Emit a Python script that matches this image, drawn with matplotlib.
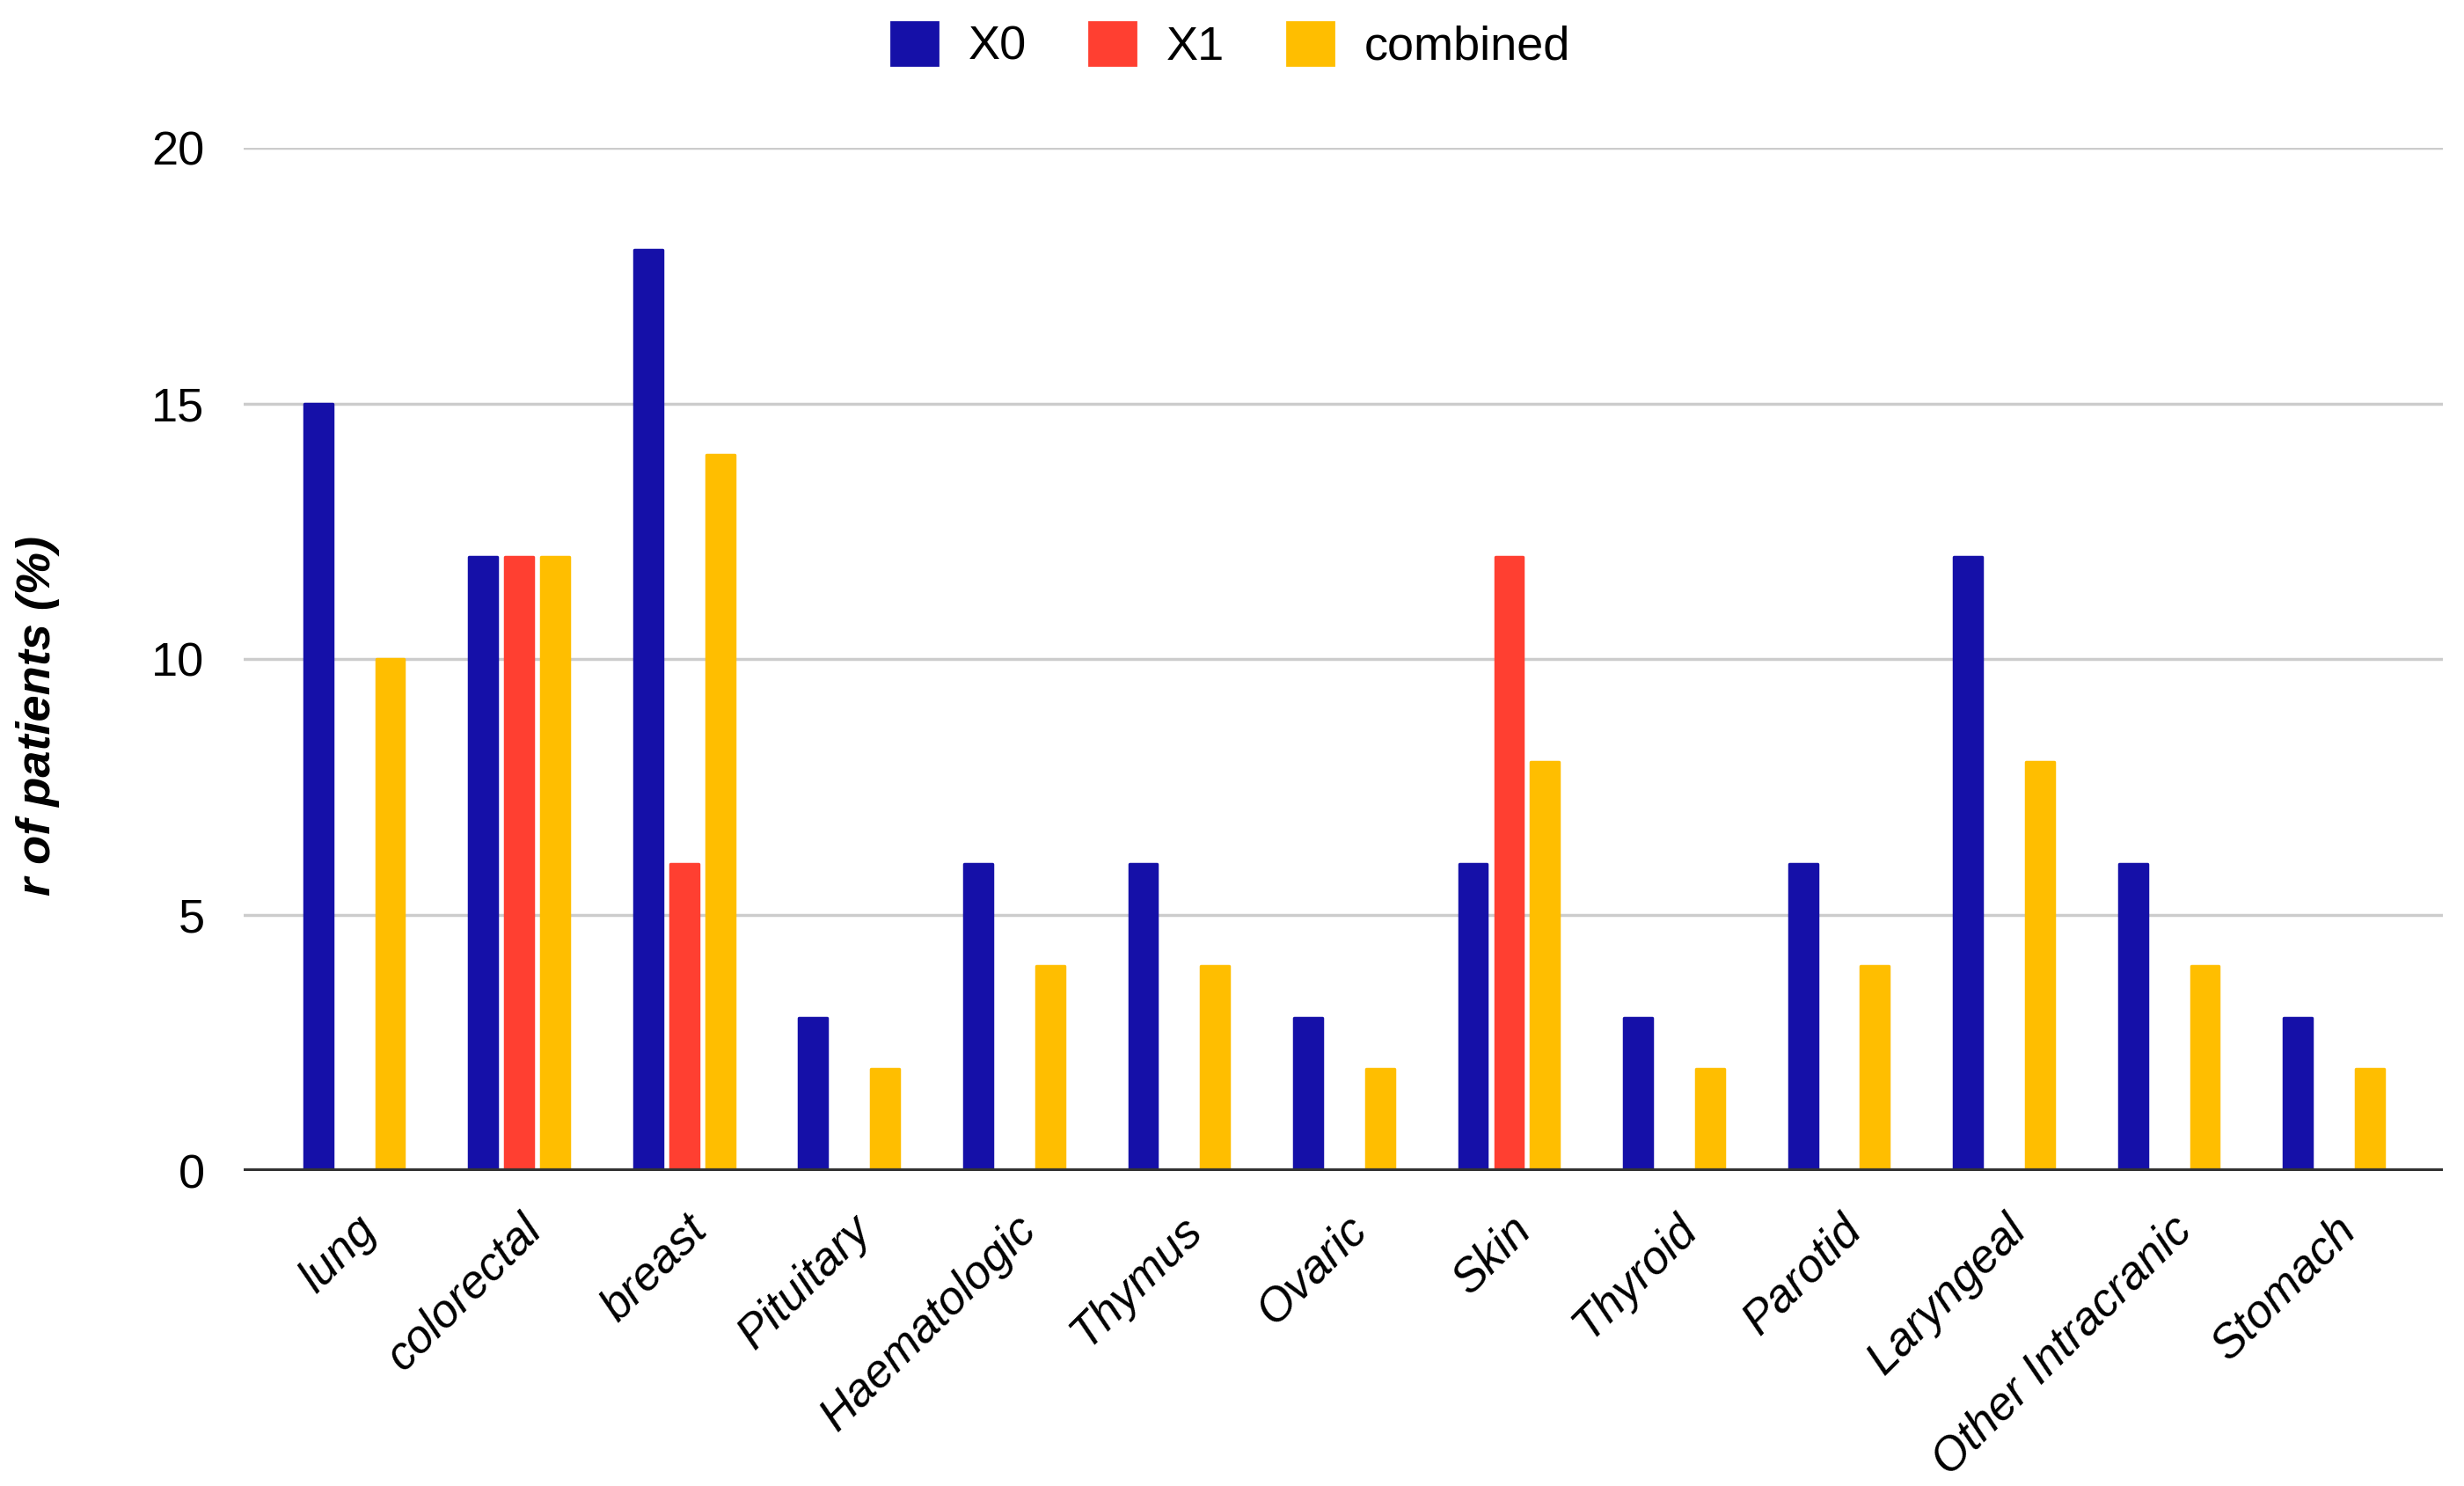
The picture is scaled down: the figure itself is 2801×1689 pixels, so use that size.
import numpy as np
import matplotlib
matplotlib.use("Agg")
import matplotlib.pyplot as plt
from matplotlib.patches import Patch

plt.rcParams['font.family'] = ['Liberation Sans', 'DejaVu Sans']

# data
categories = ["lung", "colorectal", "breast", "Pituitary", "Haematologic", "Thymus",
              "Ovaric", "Skin", "Thyroid", "Parotid", "Laryngeal", "Other Intracranic", "Stomach"]
x0 = [15, 12, 18, 3, 6, 6, 3, 6, 3, 6, 12, 6, 3]
x1 = [0, 12, 6, 0, 0, 0, 0, 12, 0, 0, 0, 0, 0]
combined = [10, 12, 14, 2, 4, 4, 2, 8, 2, 4, 8, 4, 2]
y_ticks = [0, 5, 10, 15, 20]

series_names = ["X0", "X1", "combined"]
colors = ["#1510A8", "#FF3F31", "#FFBE00"]

fig = plt.figure(figsize=(28.01, 16.89), dpi=100)
ax = fig.add_axes([0.0989, 0.2120, 0.8925, 0.6885])

x = np.arange(len(categories))
width = 0.17
step = 0.218

for k, (vals, c) in enumerate(zip([x0, x1, combined], colors)):
    ax.bar(x + (k - 1) * step, vals, width, color=c, edgecolor=c,
           linewidth=2.5, joinstyle='round', zorder=2)

ax.set_xlim(-0.67, 12.66)
ax.set_ylim(0, 20)
ax.set_yticks(y_ticks)
ax.set_yticklabels([str(t) for t in y_ticks], fontsize=39)
ax.yaxis.grid(True, color="#CCCCCC", linewidth=2.5)
ax.set_axisbelow(True)
ax.axhline(0, color="#333333", linewidth=4.5, zorder=3)

ax.set_xticks(x)
ax.set_xticklabels(categories, rotation=45, ha='right', rotation_mode='anchor',
                   fontsize=38, style='italic')
ax.tick_params(axis='both', length=0)
ax.tick_params(axis='x', pad=30)
ax.tick_params(axis='y', pad=32)

for s in ax.spines.values():
    s.set_visible(False)

ax.set_ylabel("r of patients (%)", fontsize=39, fontweight='bold', style='italic')
ax.yaxis.set_label_coords(-0.0836, 0.445)

handles = [Patch(facecolor=c, edgecolor=c, linewidth=2, joinstyle='round') for c in colors]
fig.legend(handles, series_names, loc='center', bbox_to_anchor=(0.4995, 1 - 52 / 1689),
           ncol=3, frameon=False, fontsize=39, handlelength=0.98, handleheight=1.0,
           handletextpad=0.65, columnspacing=1.3)

fig.savefig("out.png", dpi=100)
